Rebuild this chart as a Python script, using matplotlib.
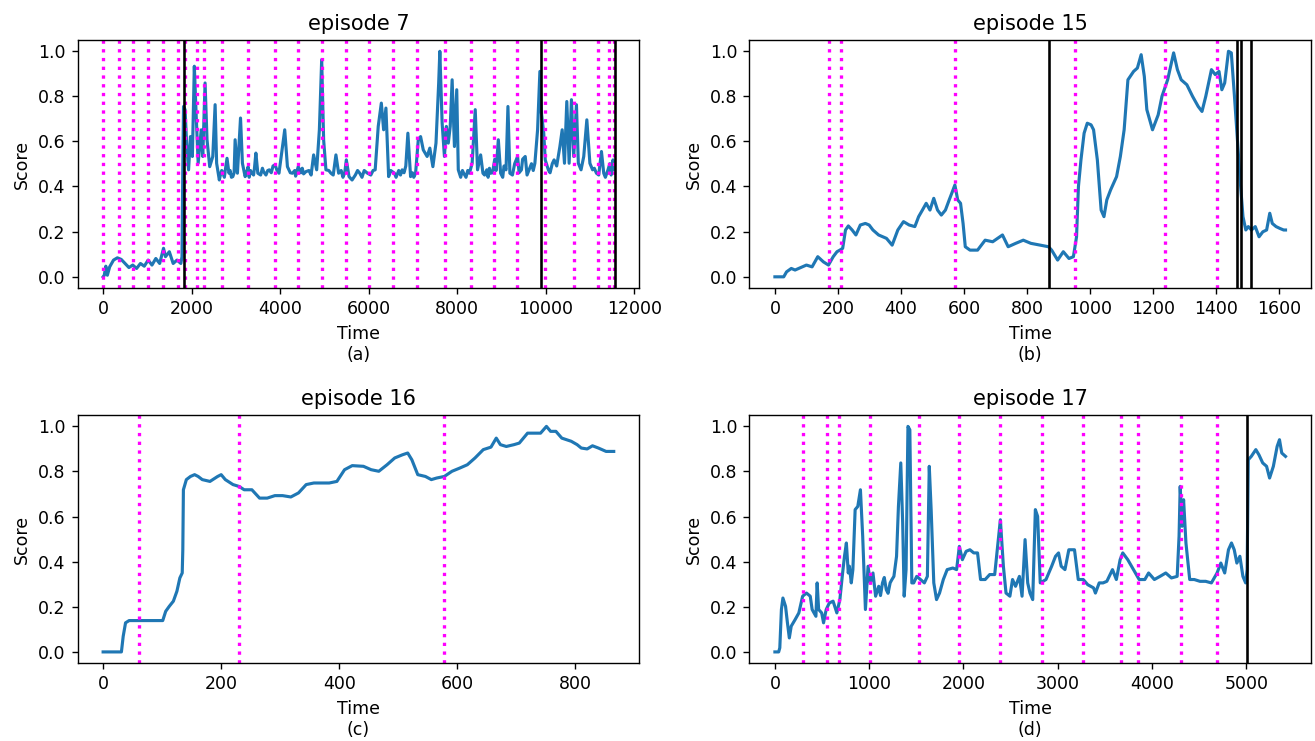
# ===============================
# SCORE OVER TIME - 4 EPISODES
# ===============================

import matplotlib
matplotlib.use("Agg")
import matplotlib.pyplot as plt

# -------------------------------
# DATA
# -------------------------------

# episode 7
t7 = [0, 26, 61, 96, 148, 235, 322, 409, 496, 583, 670, 757, 843, 930, 1017, 1104, 1191, 1278,
      1365, 1409, 1496, 1583, 1670, 1757, 1783, 1800, 1817, 1852, 1887, 1931, 1974, 2017, 2061,
      2104, 2148, 2217, 2252, 2304, 2348, 2409, 2478, 2531, 2565, 2626, 2650, 2680, 2713, 2740,
      2760, 2800, 2844, 2870, 2900, 2931, 2960, 2983, 3035, 3105, 3148, 3209, 3240, 3278, 3300,
      3330, 3365, 3400, 3420, 3452, 3496, 3560, 3600, 3626, 3680, 3720, 3757, 3800, 3840, 3887,
      3930, 3974, 4104, 4165, 4230, 4278, 4330, 4350, 4409, 4470, 4500, 4530, 4583, 4650, 4700,
      4757, 4826, 4887, 4939, 4983, 5035, 5100, 5148, 5200, 5261, 5322, 5380, 5420, 5460, 5496,
      5557, 5626, 5700, 5750, 5800, 5850, 5900, 5974, 6050, 6100, 6148, 6217, 6287, 6339, 6391,
      6452, 6500, 6583, 6620, 6680, 6720, 6757, 6800, 6840, 6887, 6948, 6990, 7020, 7061, 7122,
      7174, 7235, 7322, 7383, 7452, 7522, 7583, 7609, 7661, 7713, 7757, 7800, 7844, 7887, 7939,
      7991, 8026, 8080, 8120, 8148, 8200, 8240, 8278, 8339, 8409, 8461, 8531, 8583, 8620, 8670,
      8700, 8730, 8757, 8800, 8850, 8880, 8931, 8983, 9030, 9060, 9105, 9148, 9192, 9250, 9300,
      9366, 9400, 9453, 9480, 9539, 9580, 9626, 9680, 9720, 9757, 9818, 9870, 9905, 9957, 9991,
      10061, 10100, 10150, 10191, 10250, 10322, 10374, 10426, 10478, 10531, 10583, 10635, 10696,
      10739, 10800, 10861, 10931, 11000, 11061, 11100, 11148, 11200, 11261, 11313, 11350, 11409,
      11450, 11480, 11522, 11539]
s7 = [0.000, 0.007, 0.047, 0.007, 0.044, 0.074, 0.084, 0.077, 0.059, 0.041, 0.052, 0.037, 0.059,
      0.047, 0.074, 0.052, 0.081, 0.059, 0.126, 0.089, 0.111, 0.059, 0.074, 0.059, 0.089, 0.473,
      0.753, 0.739, 0.591, 0.473, 0.620, 0.532, 0.931, 0.709, 0.502, 0.650, 0.532, 0.857, 0.606,
      0.487, 0.532, 0.761, 0.502, 0.428, 0.450, 0.470, 0.458, 0.440, 0.470, 0.524, 0.458, 0.470,
      0.440, 0.443, 0.460, 0.606, 0.458, 0.702, 0.502, 0.443, 0.460, 0.487, 0.440, 0.470, 0.458,
      0.450, 0.480, 0.547, 0.458, 0.450, 0.480, 0.465, 0.450, 0.470, 0.473, 0.460, 0.490, 0.495,
      0.470, 0.458, 0.650, 0.487, 0.460, 0.458, 0.470, 0.445, 0.487, 0.460, 0.480, 0.455, 0.465,
      0.470, 0.450, 0.539, 0.473, 0.650, 0.960, 0.606, 0.473, 0.470, 0.458, 0.450, 0.539, 0.458,
      0.470, 0.440, 0.460, 0.517, 0.443, 0.428, 0.450, 0.470, 0.458, 0.440, 0.470, 0.458, 0.450,
      0.470, 0.473, 0.665, 0.768, 0.650, 0.746, 0.443, 0.470, 0.458, 0.440, 0.470, 0.450, 0.473,
      0.460, 0.490, 0.635, 0.443, 0.460, 0.440, 0.458, 0.606, 0.620, 0.561, 0.532, 0.569, 0.487,
      0.591, 0.857, 0.997, 0.679, 0.532, 0.665, 0.591, 0.665, 0.871, 0.576, 0.827, 0.473, 0.440,
      0.470, 0.458, 0.440, 0.470, 0.458, 0.502, 0.739, 0.473, 0.539, 0.458, 0.450, 0.473, 0.440,
      0.480, 0.458, 0.460, 0.520, 0.470, 0.606, 0.458, 0.440, 0.490, 0.473, 0.753, 0.458, 0.450,
      0.500, 0.532, 0.460, 0.473, 0.520, 0.532, 0.450, 0.473, 0.500, 0.470, 0.502, 0.650, 0.908,
      0.724, 0.635, 0.517, 0.473, 0.460, 0.500, 0.517, 0.490, 0.576, 0.650, 0.502, 0.775, 0.502,
      0.783, 0.532, 0.761, 0.502, 0.473, 0.532, 0.694, 0.502, 0.473, 0.480, 0.458, 0.450, 0.554,
      0.458, 0.440, 0.473, 0.500, 0.450, 0.517, 0.473]
marks7 = [0, 348, 670, 1009, 1348, 1687, 1850, 2130, 2287, 2687, 3270, 3887, 4409, 4939, 5487,
          6017, 6548, 7104, 7731, 8313, 8844, 9357, 9991, 10652, 11191, 11426, 11539]
ends7 = [1817, 9887, 11574]

# episode 15
t15 = [0, 28, 37, 52, 64, 82, 100, 118, 136, 154, 170, 185, 197, 206, 215, 224, 233, 245, 257,
       271, 287, 299, 311, 329, 354, 372, 390, 408, 426, 444, 456, 468, 480, 492, 504, 516, 528,
       541, 553, 561, 571, 580, 589, 597, 604, 619, 643, 667, 691, 722, 740, 764, 788, 812, 842,
       868, 878, 897, 915, 933, 947, 957, 963, 971, 981, 991, 1003, 1011, 1023, 1035, 1044, 1053,
       1065, 1084, 1096, 1108, 1120, 1138, 1150, 1162, 1172, 1180, 1198, 1216, 1228, 1246, 1265,
       1277, 1289, 1307, 1325, 1343, 1355, 1367, 1385, 1397, 1409, 1418, 1427, 1439, 1448, 1458,
       1466, 1476, 1485, 1494, 1502, 1512, 1524, 1536, 1548, 1560, 1570, 1578, 1590, 1602, 1614,
       1620]
s15 = [0.000, 0.000, 0.022, 0.037, 0.030, 0.041, 0.052, 0.044, 0.089, 0.066, 0.052, 0.089, 0.111,
       0.118, 0.126, 0.207, 0.225, 0.207, 0.185, 0.229, 0.236, 0.229, 0.207, 0.185, 0.170, 0.140,
       0.207, 0.244, 0.229, 0.222, 0.266, 0.295, 0.325, 0.295, 0.347, 0.295, 0.273, 0.295, 0.340,
       0.369, 0.406, 0.340, 0.325, 0.236, 0.133, 0.118, 0.118, 0.162, 0.155, 0.185, 0.133, 0.148,
       0.162, 0.148, 0.140, 0.133, 0.118, 0.074, 0.111, 0.081, 0.089, 0.177, 0.399, 0.517, 0.635,
       0.679, 0.672, 0.650, 0.517, 0.295, 0.266, 0.340, 0.384, 0.443, 0.532, 0.650, 0.871, 0.908,
       0.923, 0.982, 0.886, 0.739, 0.650, 0.716, 0.798, 0.871, 0.990, 0.916, 0.871, 0.849, 0.798,
       0.753, 0.731, 0.798, 0.916, 0.894, 0.908, 0.827, 0.857, 0.997, 0.990, 0.798, 0.635, 0.428,
       0.266, 0.207, 0.222, 0.207, 0.222, 0.177, 0.199, 0.207, 0.281, 0.236, 0.222, 0.214, 0.207,
       0.207]
marks15 = [172, 210, 572, 951, 1238, 1403]
ends15 = [869, 1466, 1479, 1512]

# episode 16
t16 = [0, 31, 34, 38, 44, 70, 101, 106, 112, 119, 125, 130, 134, 135, 136, 141, 148, 155, 161,
       168, 181, 194, 200, 207, 220, 230, 239, 252, 265, 278, 291, 304, 318, 331, 344, 357, 370,
       383, 396, 409, 422, 441, 454, 467, 481, 494, 507, 516, 523, 533, 546, 556, 565, 578, 591,
       604, 617, 630, 644, 657, 666, 673, 683, 696, 705, 719, 741, 751, 758, 767, 777, 793, 803,
       810, 820, 829, 839, 852, 865]
s16 = [0.000, 0.000, 0.069, 0.129, 0.139, 0.139, 0.139, 0.180, 0.202, 0.225, 0.269, 0.328, 0.350,
       0.453, 0.719, 0.764, 0.778, 0.786, 0.778, 0.764, 0.756, 0.778, 0.786, 0.764, 0.742, 0.734,
       0.719, 0.719, 0.682, 0.682, 0.693, 0.693, 0.687, 0.705, 0.742, 0.749, 0.749, 0.749, 0.756,
       0.808, 0.826, 0.823, 0.808, 0.801, 0.830, 0.860, 0.874, 0.882, 0.852, 0.786, 0.778, 0.764,
       0.771, 0.778, 0.801, 0.815, 0.830, 0.860, 0.897, 0.908, 0.948, 0.919, 0.911, 0.919, 0.926,
       0.970, 0.970, 1.000, 0.978, 0.978, 0.948, 0.934, 0.919, 0.904, 0.900, 0.914, 0.904, 0.889,
       0.889]
marks16 = [61, 230, 577]
ends16 = []

# episode 17
t17 = [0, 40, 52, 69, 85, 113, 133, 153, 173, 214, 254, 294, 335, 375, 395, 435, 448, 464, 496,
       516, 544, 577, 617, 657, 689, 718, 738, 758, 778, 790, 810, 827, 851, 879, 907, 931, 960,
       988, 1012, 1040, 1068, 1101, 1120, 1141, 1160, 1181, 1200, 1222, 1240, 1262, 1290, 1310,
       1335, 1355, 1371, 1391, 1411, 1431, 1452, 1472, 1504, 1544, 1585, 1617, 1637, 1657, 1685,
       1714, 1746, 1786, 1827, 1887, 1927, 1956, 1988, 2028, 2068, 2109, 2149, 2181, 2230, 2278,
       2331, 2391, 2423, 2451, 2492, 2520, 2552, 2593, 2621, 2653, 2681, 2705, 2734, 2762, 2786,
       2814, 2875, 2935, 2976, 3008, 3036, 3076, 3117, 3177, 3217, 3270, 3318, 3379, 3399, 3439,
       3480, 3520, 3580, 3621, 3661, 3689, 3742, 3802, 3863, 3923, 3963, 4024, 4084, 4145, 4205,
       4266, 4286, 4298, 4318, 4334, 4359, 4399, 4447, 4508, 4568, 4629, 4689, 4729, 4770, 4810,
       4842, 4871, 4899, 4931, 4963, 4992, 5008, 5020, 5052, 5100, 5133, 5173, 5214, 5246, 5286,
       5326, 5351, 5375, 5415]
s17 = [0.000, 0.000, 0.018, 0.188, 0.239, 0.202, 0.129, 0.062, 0.114, 0.143, 0.173, 0.247, 0.261,
       0.247, 0.188, 0.158, 0.306, 0.188, 0.173, 0.129, 0.188, 0.217, 0.225, 0.173, 0.232, 0.350,
       0.424, 0.483, 0.350, 0.380, 0.306, 0.365, 0.631, 0.645, 0.719, 0.513, 0.188, 0.380, 0.306,
       0.350, 0.247, 0.291, 0.250, 0.306, 0.330, 0.276, 0.260, 0.306, 0.320, 0.335, 0.424, 0.645,
       0.838, 0.572, 0.247, 0.365, 1.000, 0.985, 0.306, 0.306, 0.335, 0.321, 0.306, 0.335, 0.823,
       0.631, 0.306, 0.232, 0.261, 0.321, 0.365, 0.372, 0.365, 0.468, 0.409, 0.446, 0.453, 0.439,
       0.439, 0.321, 0.321, 0.343, 0.343, 0.586, 0.380, 0.261, 0.247, 0.321, 0.291, 0.335, 0.247,
       0.498, 0.306, 0.261, 0.232, 0.631, 0.601, 0.306, 0.321, 0.380, 0.424, 0.439, 0.380, 0.365,
       0.453, 0.453, 0.321, 0.321, 0.298, 0.284, 0.261, 0.306, 0.306, 0.313, 0.365, 0.321, 0.409,
       0.439, 0.409, 0.365, 0.321, 0.321, 0.350, 0.321, 0.335, 0.350, 0.328, 0.335, 0.513, 0.734,
       0.557, 0.675, 0.483, 0.321, 0.321, 0.313, 0.313, 0.306, 0.350, 0.394, 0.350, 0.453, 0.483,
       0.453, 0.394, 0.424, 0.335, 0.306, 0.365, 0.852, 0.867, 0.897, 0.874, 0.838, 0.823, 0.771,
       0.823, 0.911, 0.941, 0.882, 0.867]
marks17 = [302, 556, 681, 1012, 1528, 1956, 2387, 2830, 3270, 3665, 3850, 4302, 4693]
ends17 = [5008]

titles = ["episode 7", "episode 15", "episode 16", "episode 17"]
letters = ["(a)", "(b)", "(c)", "(d)"]

# -------------------------------
# PLOT
# -------------------------------

fig, axes = plt.subplots(2, 2, figsize=(10.52, 5.928), dpi=125)
fig.subplots_adjust(left=0.059, right=0.997, top=0.946, bottom=0.105,
                    wspace=0.196, hspace=0.512)

panels = [(t7, s7, marks7, ends7), (t15, s15, marks15, ends15),
          (t16, s16, marks16, ends16), (t17, s17, marks17, ends17)]

for ax, (t, s, marks, ends), title, letter in zip(axes.flat, panels, titles, letters):
    ax.plot(t, s, color="C0", linewidth=1.8)
    for m in marks:
        ax.axvline(m, color="magenta", linestyle=":", linewidth=1.9)
    for e in ends:
        ax.axvline(e, color="black", linewidth=1.5)
    ax.set_title(title)
    ax.set_xlabel("Time\n" + letter)
    ax.set_ylabel("Score")

plt.savefig("out.png", dpi=125)
